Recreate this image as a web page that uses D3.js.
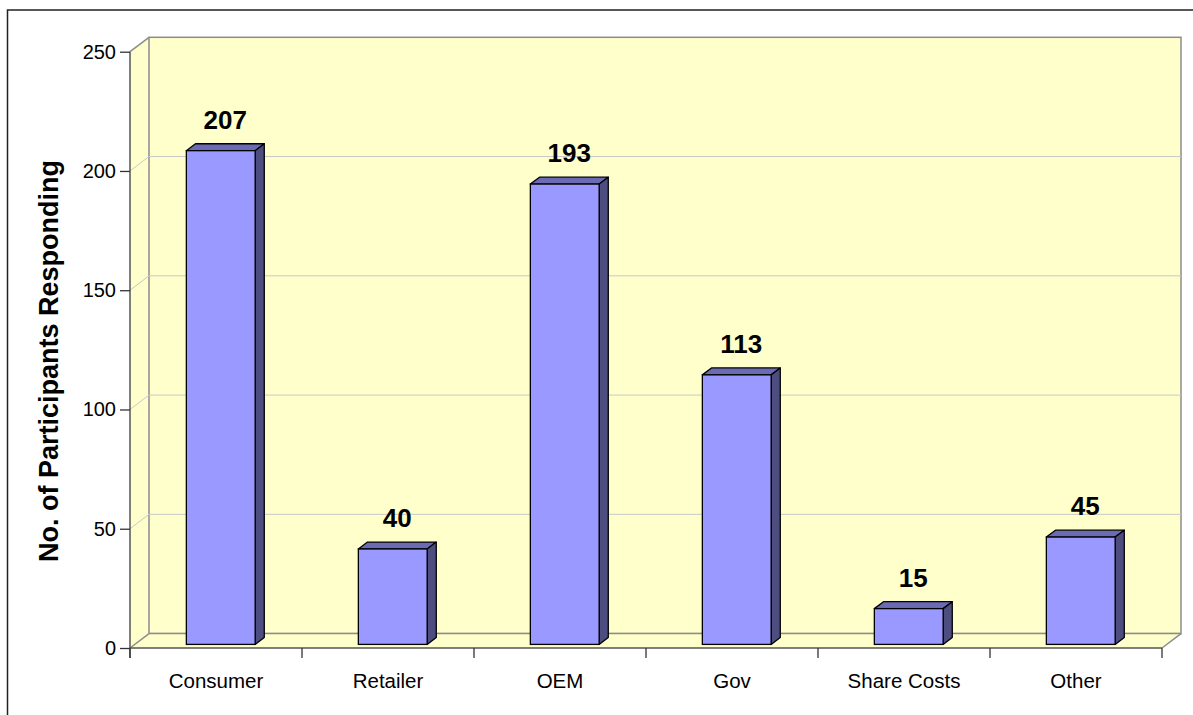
<!DOCTYPE html>
<html>
<head>
<meta charset="utf-8">
<script src="https://cdn.jsdelivr.net/npm/d3@7"></script>
<style>
  body { margin: 0; background: #fff; }
  svg { display: block; font-family: "Liberation Sans", Arial, sans-serif; }
</style>
</head>
<body>
<div id="chart"></div>
<script>
const categories = ["Consumer", "Retailer", "OEM", "Gov", "Share Costs", "Other"];
const responses = [207, 40, 193, 113, 15, 45];
const yTicks = [0, 50, 100, 150, 200, 250];
const yTitle = "No. of Participants Responding";

const width = 1193;
const height = 715;

// plot front plane and 3D depth of the walls
const plotLeft = 130, plotRight = 1162, plotBottom = 648, plotTop = 51.7;
const depthX = 19, depthY = -14.4;
// bars sit between 25% and 73% of the floor depth
const barFront = 0.25, barDepth = 0.48;

const svg = d3.select("#chart")
    .append("svg")
    .attr("width", width)
    .attr("height", height);

// outer frame
svg.append("rect")
    .attr("x", 7.5).attr("y", 10)
    .attr("width", width).attr("height", height)
    .attr("fill", "none")
    .attr("stroke", "#222")
    .attr("stroke-width", 1.5);

const x = d3.scaleBand()
    .domain(categories)
    .range([plotLeft, plotRight])
    .paddingInner(0.6)
    .paddingOuter(0.3);

const xCat = d3.scaleBand()
    .domain(categories)
    .range([plotLeft, plotRight])
    .padding(0);

const y = d3.scaleLinear()
    .domain([0, 250])
    .range([plotBottom, plotTop]);

const wallFill = "#FFFFCC";
const wallStroke = "#8c8c8c";

// left wall
svg.append("polygon")
    .attr("points", [
        [plotLeft, y(0)], [plotLeft + depthX, y(0) + depthY],
        [plotLeft + depthX, y(250) + depthY], [plotLeft, y(250)]
    ].join(" "))
    .attr("fill", wallFill)
    .attr("stroke", "none");

// back wall
svg.append("rect")
    .attr("x", plotLeft + depthX)
    .attr("y", y(250) + depthY)
    .attr("width", plotRight - plotLeft)
    .attr("height", y(0) - y(250))
    .attr("fill", wallFill)
    .attr("stroke", wallStroke)
    .attr("stroke-width", 1.5);

// floor
svg.append("polygon")
    .attr("points", [
        [plotLeft, y(0)], [plotRight, y(0)],
        [plotRight + depthX, y(0) + depthY], [plotLeft + depthX, y(0) + depthY]
    ].join(" "))
    .attr("fill", wallFill)
    .attr("stroke", "none");

// gridlines on back and left walls
const grid = svg.append("g");
yTicks.filter(t => t > 0 && t < 250).forEach(t => {
    grid.append("line")
        .attr("x1", plotLeft + depthX).attr("x2", plotRight + depthX)
        .attr("y1", y(t) + depthY).attr("y2", y(t) + depthY)
        .attr("stroke", "#c8c8c8").attr("stroke-width", 1);
    grid.append("line")
        .attr("x1", plotLeft).attr("x2", plotLeft + depthX)
        .attr("y1", y(t)).attr("y2", y(t) + depthY)
        .attr("stroke", "#c8c8c8").attr("stroke-width", 1);
});

// wall edges
const edges = [
    [[plotLeft, y(250)], [plotLeft + depthX, y(250) + depthY]],
    [[plotLeft, y(0)], [plotLeft + depthX, y(0) + depthY]],
    [[plotRight, y(0)], [plotRight + depthX, y(0) + depthY]],
    [[plotLeft + depthX, y(0) + depthY], [plotRight + depthX, y(0) + depthY]]
];
svg.append("g").selectAll("line")
    .data(edges)
    .join("line")
    .attr("x1", d => d[0][0]).attr("y1", d => d[0][1])
    .attr("x2", d => d[1][0]).attr("y2", d => d[1][1])
    .attr("stroke", wallStroke)
    .attr("stroke-width", 1.5);

// bars
const data = categories.map((c, i) => ({ cat: c, value: responses[i] }));
const fx = barFront * depthX, fy = barFront * depthY;
const dx = barDepth * depthX, dy = barDepth * depthY;
const bw = x.bandwidth();

const bars = svg.append("g").selectAll("g")
    .data(data)
    .join("g");

// top face
bars.append("polygon")
    .attr("points", d => {
        const x0 = x(d.cat) + fx, y0 = y(d.value) + fy;
        return [[x0, y0], [x0 + dx, y0 + dy], [x0 + bw + dx, y0 + dy], [x0 + bw, y0]].join(" ");
    })
    .attr("fill", "#6b6bb3")
    .attr("stroke", "#000")
    .attr("stroke-width", 1.3)
    .attr("stroke-linejoin", "round");

// side face
bars.append("polygon")
    .attr("points", d => {
        const x0 = x(d.cat) + fx + bw, yt = y(d.value) + fy, yb = y(0) + fy;
        return [[x0, yt], [x0 + dx, yt + dy], [x0 + dx, yb + dy], [x0, yb]].join(" ");
    })
    .attr("fill", "#4d4d80")
    .attr("stroke", "#000")
    .attr("stroke-width", 1.3)
    .attr("stroke-linejoin", "round");

// front face
bars.append("rect")
    .attr("x", d => x(d.cat) + fx)
    .attr("y", d => y(d.value) + fy)
    .attr("width", bw)
    .attr("height", d => y(0) - y(d.value))
    .attr("fill", "#9999ff")
    .attr("stroke", "#000")
    .attr("stroke-width", 1.3);

// value labels
bars.append("text")
    .attr("x", d => x(d.cat) + fx + bw / 2 + dx / 2)
    .attr("y", d => y(d.value) + fy + dy - 15)
    .attr("text-anchor", "middle")
    .attr("font-size", "26px")
    .attr("font-weight", "bold")
    .attr("fill", "#000")
    .text(d => d.value);

// y axis
const yAxis = svg.append("g")
    .attr("transform", `translate(${plotLeft},0)`)
    .call(d3.axisLeft(y).tickValues(yTicks).tickSize(10).tickPadding(4).tickFormat(d3.format("d")));
yAxis.select(".domain")
    .attr("d", `M0,${y(250)}V${plotBottom + 10}`)
    .attr("stroke", "#555")
    .attr("stroke-width", 1.5);
yAxis.selectAll(".tick line").attr("stroke", "#333").attr("stroke-width", 1.3);
yAxis.selectAll(".tick text")
    .attr("font-size", "20px")
    .attr("font-family", "'Liberation Sans', Arial, sans-serif")
    .attr("fill", "#000");

// x axis line and category separators
svg.append("line")
    .attr("x1", plotLeft).attr("x2", plotRight)
    .attr("y1", plotBottom).attr("y2", plotBottom)
    .attr("stroke", "#555").attr("stroke-width", 1.5);
const bounds = categories.map(c => xCat(c)).concat([plotRight]);
svg.append("g").selectAll("line")
    .data(bounds)
    .join("line")
    .attr("x1", d => d).attr("x2", d => d)
    .attr("y1", plotBottom).attr("y2", plotBottom + 10)
    .attr("stroke", "#333").attr("stroke-width", 1.3);

svg.append("g").selectAll("text")
    .data(categories)
    .join("text")
    .attr("x", d => xCat(d) + xCat.bandwidth() / 2)
    .attr("y", 688)
    .attr("text-anchor", "middle")
    .attr("font-size", "20.5px")
    .attr("fill", "#000")
    .text(d => d);

// y title
svg.append("text")
    .attr("transform", "translate(58,361) rotate(-90)")
    .attr("text-anchor", "middle")
    .attr("font-size", "27px")
    .attr("font-weight", "bold")
    .attr("fill", "#000")
    .text(yTitle);
</script>
</body>
</html>
